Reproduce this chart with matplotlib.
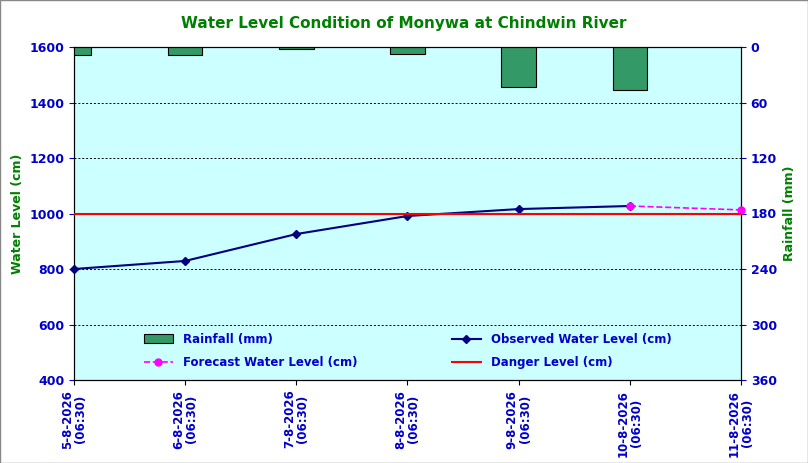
import matplotlib.pyplot as plt
import numpy as np

# data
dates = ["5-8-2026\n(06:30)", "6-8-2026\n(06:30)", "7-8-2026\n(06:30)", "8-8-2026\n(06:30)",
         "9-8-2026\n(06:30)", "10-8-2026\n(06:30)", "11-8-2026\n(06:30)"]
rainfall = [9, 9, 2, 8, 43, 47]
observed = [800, 829, 926, 991, 1016, 1027]
forecast_x = [5, 6]
forecast = [1027, 1013]
danger = 1000

blue = "#0000CC"
green = "#008000"

fig = plt.figure(figsize=(8.08, 4.63), dpi=100)
ax = fig.add_axes([74 / 808, 1 - 380 / 463, 667 / 808, 333 / 463])
ax.set_facecolor("#CCFFFF")

x = np.arange(len(dates))
ax.set_xlim(0, 6)
ax.set_ylim(400, 1600)
ax.set_yticks(range(400, 1601, 200))
ax.yaxis.grid(True, color="black", linestyle=(0, (2, 2)), linewidth=0.7)
ax.set_xticks(x)
ax.set_xticklabels(dates, rotation=90, color=blue, fontsize=8.5, fontweight="bold",
                   linespacing=1.0)
ax.tick_params(axis="y", colors=blue, labelsize=9)
for t in ax.get_yticklabels():
    t.set_fontweight("bold")
ax.set_ylabel("Water Level (cm)", color=green, fontsize=9, fontweight="bold")

ax2 = ax.twinx()
ax2.bar(x[:len(rainfall)], rainfall, width=0.31, color="#339966", edgecolor="black",
        linewidth=0.8, label="Rainfall (mm)", zorder=1)
ax2.set_ylim(360, 0)
ax2.set_yticks(range(0, 361, 60))
ax2.tick_params(axis="y", colors=blue, labelsize=9)
for t in ax2.get_yticklabels():
    t.set_fontweight("bold")
ax2.set_ylabel("Rainfall (mm)", color=green, fontsize=9, fontweight="bold")

# draw lines on top of the bars
ax3 = ax.twinx()
ax3.set_ylim(400, 1600)
ax3.set_xlim(0, 6)
ax3.axis("off")
l1, = ax3.plot(x[:len(observed)], observed, color="#000080", marker="D", markersize=4,
               linewidth=1.5, label="Observed Water Level (cm)", clip_on=False)
l2, = ax3.plot(forecast_x, forecast, color="#FF00FF", marker="o", markersize=5,
               linestyle="--", linewidth=1.2, label="Forecast Water Level (cm)", clip_on=False)
l3 = ax3.axhline(danger, color="#FF0000", linewidth=1.5, label="Danger Level (cm)")

bars = ax2.containers[0]
leg = ax3.legend([bars, l2, l1, l3],
                 ["Rainfall (mm)", "Forecast Water Level (cm)",
                  "Observed Water Level (cm)", "Danger Level (cm)"],
                 ncol=2, loc="lower center", bbox_to_anchor=(0.5, 0.0), frameon=False,
                 fontsize=8.5, columnspacing=8, handlelength=2.5, labelspacing=0.9)
for t in leg.get_texts():
    t.set_color(blue)
    t.set_fontweight("bold")

fig.suptitle("Water Level Condition of Monywa at Chindwin River", color=green,
             fontsize=11, fontweight="bold", y=0.965)
fig.patches.append(plt.Rectangle((0, 0), 1, 1, transform=fig.transFigure,
                                 fill=False, edgecolor="#888888", linewidth=1))
fig.savefig("out.png", dpi=100)
